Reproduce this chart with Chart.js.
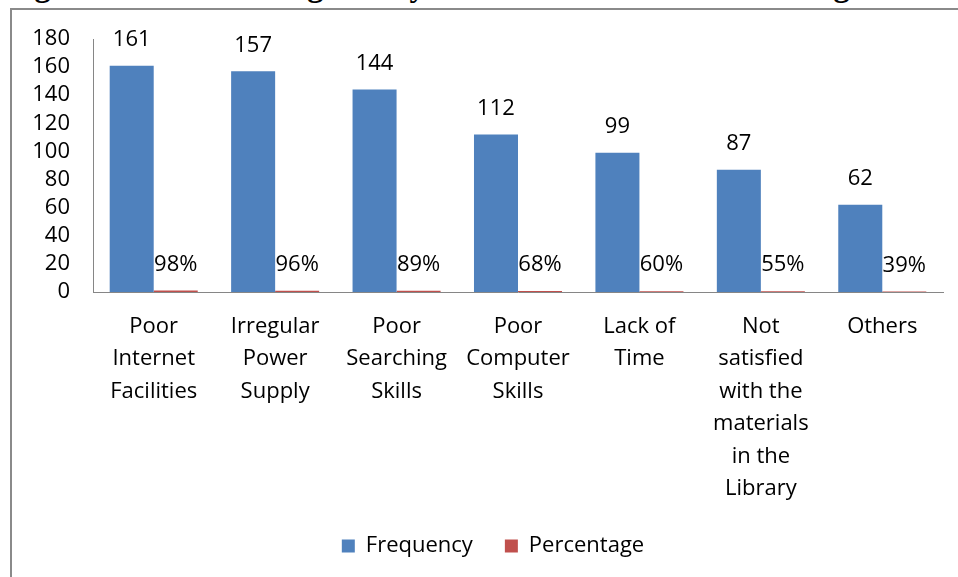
<!DOCTYPE html>
<html><head><meta charset="utf-8">
<script src="https://cdn.jsdelivr.net/npm/chart.js@4.4.1/dist/chart.umd.min.js"></script>
<style>
html,body{margin:0;padding:0;width:958px;height:577px;overflow:hidden;background:#fff;}
#title{position:absolute;left:6px;top:-31px;font:bold 32px "Liberation Serif";line-height:32px;white-space:nowrap;color:#000;}
#frame{position:absolute;left:10px;top:8px;width:1100px;height:700px;border-left:2px solid #8a8a8a;border-top:2px solid #8a8a8a;}
canvas{position:absolute;left:0;top:0;}
</style></head><body>
<div id="title">Fig 4: Factors affecting faculty members' information seeking behaviour</div>
<div id="frame"></div>
<canvas id="c" width="958" height="577"></canvas>
<script>
const categories = [
  ["Poor","Internet","Facilities"],
  ["Irregular","Power","Supply"],
  ["Poor","Searching","Skills"],
  ["Poor","Computer","Skills"],
  ["Lack of","Time"],
  ["Not","satisfied","with the","materials","in the","Library"],
  ["Others"]
];
const frequency = [161, 157, 144, 112, 99, 87, 62];
const percentage = [0.98, 0.96, 0.89, 0.68, 0.60, 0.55, 0.39];
const yTicks = [0, 20, 40, 60, 80, 100, 120, 140, 160, 180];
const seriesNames = ["Frequency", "Percentage"];

const FONT = '"Open Sans"';
Chart.defaults.font.family = FONT;
Chart.defaults.color = '#000';

const layoutFix = {
  id: 'layoutFix',
  beforeInit(chart) {
    const lg = chart.legend;
    const orig = lg.fit;
    lg.fit = function () { orig.call(this); this.height = 74; };
  },
  afterLayout(chart) {
    chart.legend.left += 15;
    chart.legend.right += 15;
  }
};

const valueLabels = {
  id: 'valueLabels',
  afterDatasetsDraw(chart) {
    const ctx = chart.ctx;
    ctx.save();
    ctx.font = '22px ' + FONT;
    ctx.fillStyle = '#000';
    ctx.textAlign = 'center';
    ctx.textBaseline = 'middle';
    chart.data.datasets.forEach((ds, di) => {
      chart.getDatasetMeta(di).data.forEach((el, i) => {
        const v = ds.data[i];
        const txt = di === 0 ? String(v) : Math.round(v * 100) + '%';
        ctx.fillText(txt, el.x, el.y - 26);
      });
    });
    ctx.restore();
  }
};

new Chart(document.getElementById('c'), {
  type: 'bar',
  data: {
    labels: categories,
    datasets: [
      { label: seriesNames[0], data: frequency, backgroundColor: '#4F81BD', borderWidth: 0 },
      { label: seriesNames[1], data: percentage, backgroundColor: '#C0504D', borderWidth: 0 }
    ]
  },
  options: {
    responsive: false,
    devicePixelRatio: 1,
    animation: false,
    categoryPercentage: 0.725,
    barPercentage: 1,
    layout: { padding: { left: 13, right: 15, top: 39, bottom: 0 } },
    plugins: {
      legend: {
        position: 'bottom',
        labels: {
          boxWidth: 13, boxHeight: 13, padding: 32,
          font: { size: 22 }, color: '#000'
        }
      },
      tooltip: { enabled: false },
      title: { display: false }
    },
    scales: {
      x: {
        grid: { display: false, drawTicks: false },
        border: { display: true, color: '#868686', width: 1 },
        ticks: { font: { size: 22, lineHeight: 1.48 }, padding: 18, color: '#000', maxRotation: 0, autoSkip: false },
        afterFit(s) { s.height = 211; }
      },
      y: {
        min: 0, max: 180,
        grid: { display: false, drawTicks: false },
        border: { display: true, color: '#868686', width: 1 },
        ticks: { font: { size: 22 }, padding: 23, color: '#000', autoSkip: false, stepSize: 20 },
        afterBuildTicks(s) { s.ticks = yTicks.map(v => ({ value: v })); },
        afterFit(s) { s.width = 80; }
      }
    }
  },
  plugins: [layoutFix, valueLabels]
});
</script>
</body></html>
